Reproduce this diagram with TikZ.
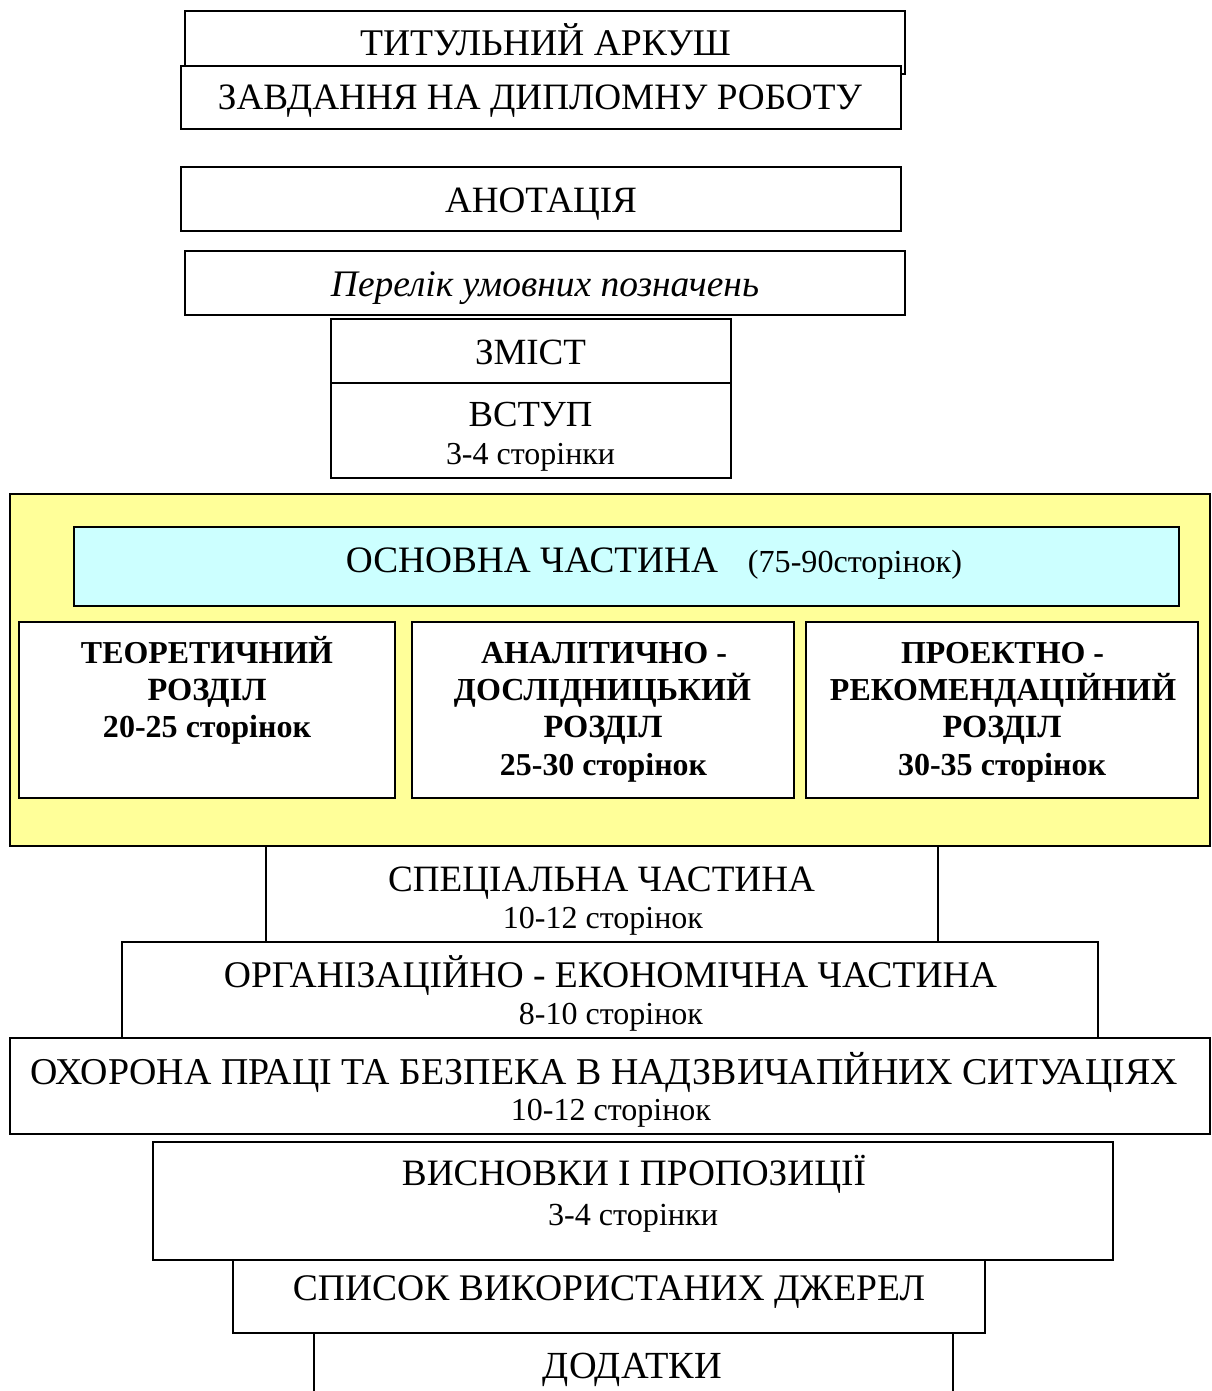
\documentclass[tikz,border=0pt]{standalone}
\usepackage{fontspec}
\setmainfont{Liberation Serif}
\usepackage{graphicx}
\definecolor{mainyellow}{HTML}{FFFF99}
\definecolor{maincyan}{HTML}{CCFFFF}
\newcommand\fw[2]{\resizebox{#1pt}{!}{#2}}
\tikzset{
  box/.style={draw=black, line width=1.5pt, fill=white, inner sep=0pt, outer sep=0pt, rectangle},
  txt/.style={inner sep=0pt, outer sep=0pt, anchor=base},
  bf/.style={txt, font=\bfseries}
}
\begin{document}
\begin{tikzpicture}[x=1pt,y=-1pt]
\clip (0,0) rectangle (1211,1391);
\fill[white] (0,0) rectangle (1211,1391);
% top boxes
\node[box, minimum width=720pt, minimum height=63pt] (tit) at (545,42.5) {};
\node[txt] (titT) at (545.5,56) {\fw{371}{ТИТУЛЬНИЙ АРКУШ}};
\node[box, minimum width=720pt, minimum height=63pt] (zav) at (541,97.5) {};
\node[txt] (zavT) at (540,110) {\fw{644}{ЗАВДАННЯ НА ДИПЛОМНУ РОБОТУ}};
\node[box, minimum width=720pt, minimum height=64pt] (anot) at (541,199) {};
\node[txt] (anotT) at (541,212) {\fw{192}{АНОТАЦІЯ}};
\node[box, minimum width=720pt, minimum height=64pt] (perel) at (545,283) {};
\node[txt] (perelT) at (545,296) {\fw{428}{\itshape Перелік умовних позначень}};
\node[box, minimum width=400pt, minimum height=64pt] (zmist) at (531,351) {};
\node[txt] (zmistT) at (530.5,364) {\fw{111}{ЗМІСТ}};
\node[box, minimum width=400pt, minimum height=95pt] (vstup) at (531,430.5) {};
\node[txt] (vstupT) at (530.5,426) {\fw{124}{ВСТУП}};
\node[txt] (vstupP) at (530.5,464) {\fw{169}{3-4 сторінки}};
% main part
\node[box, fill=mainyellow, minimum width=1200pt, minimum height=352pt] (main) at (610,670) {};
\node[box, fill=maincyan, minimum width=1105pt, minimum height=79pt] (osn) at (626.5,566.5) {};
\node[txt] (osnT) at (532,572) {\fw{372}{ОСНОВНА ЧАСТИНА}};
\node[txt] (osnP) at (855,572) {\fw{214}{(75-90сторінок)}};
\node[box, minimum width=376pt, minimum height=176pt] (teor) at (207,710) {};
\node[bf] (teor1) at (207,663) {\fw{252}{\bfseries ТЕОРЕТИЧНИЙ}};
\node[bf] (teor2) at (207,700) {\fw{119}{\bfseries РОЗДІЛ}};
\node[bf] (teor3) at (207,737) {\fw{208}{\bfseries 20-25 сторінок}};
\node[box, minimum width=382pt, minimum height=176pt] (anal) at (603,710) {};
\node[bf] (anal1) at (604,663) {\fw{246}{\bfseries АНАЛІТИЧНО -}};
\node[bf] (anal2) at (602.5,700) {\fw{297}{\bfseries ДОСЛІДНИЦЬКИЙ}};
\node[bf] (anal3) at (603,737) {\fw{119}{\bfseries РОЗДІЛ}};
\node[bf] (anal4) at (603.5,775) {\fw{207}{\bfseries 25-30 сторінок}};
\node[box, minimum width=392pt, minimum height=176pt] (proj) at (1002,710) {};
\node[bf] (proj1) at (1002.5,663) {\fw{203}{\bfseries ПРОЕКТНО -}};
\node[bf] (proj2) at (1003,700) {\fw{346}{\bfseries РЕКОМЕНДАЦІЙНИЙ}};
\node[bf] (proj3) at (1002,737) {\fw{119}{\bfseries РОЗДІЛ}};
\node[bf] (proj4) at (1002,775) {\fw{208}{\bfseries 30-35 сторінок}};
% lower boxes
\node[box, minimum width=672pt, minimum height=96pt] (spec) at (602,894) {};
\node[txt] (specT) at (601.5,891) {\fw{427}{СПЕЦІАЛЬНА ЧАСТИНА}};
\node[txt] (specP) at (603,928) {\fw{200}{10-12 сторінок}};
\node[box, minimum width=976pt, minimum height=96pt] (org) at (610,990) {};
\node[txt] (orgT) at (610.5,987) {\fw{773}{ОРГАНІЗАЦІЙНО - ЕКОНОМІЧНА ЧАСТИНА}};
\node[txt] (orgP) at (611,1024) {\fw{184}{8-10 сторінок}};
\node[box, minimum width=1200pt, minimum height=96pt] (ohor) at (610,1086) {};
\node[txt] (ohorT) at (604.5,1084) {\fw{1147}{ОХОРОНА ПРАЦІ ТА БЕЗПЕКА В НАДЗВИЧАПЙНИХ СИТУАЦІЯХ}};
\node[txt] (ohorP) at (611,1120) {\fw{200}{10-12 сторінок}};
\node[box, minimum width=960pt, minimum height=118pt] (visn) at (633,1201) {};
\node[txt] (visnT) at (634,1185) {\fw{464}{ВИСНОВКИ І ПРОПОЗИЦІЇ}};
\node[txt] (visnP) at (633,1225) {\fw{170}{3-4 сторінки}};
\node[box, minimum width=752pt, minimum height=73pt] (spys) at (609,1296.5) {};
\node[txt] (spysT) at (609,1300) {\fw{632}{СПИСОК ВИКОРИСТАНИХ ДЖЕРЕЛ}};
\node[box, minimum width=639pt, minimum height=77pt] (dod) at (633.5,1371.5) {};
\node[txt] (dodT) at (632.5,1378) {\fw{179}{ДОДАТКИ}};
\end{tikzpicture}
\end{document}
